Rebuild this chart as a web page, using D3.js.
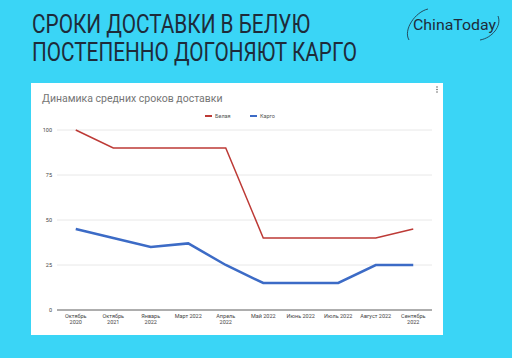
<!DOCTYPE html>
<html>
<head>
<meta charset="utf-8">
<script src="https://cdn.jsdelivr.net/npm/d3@7"></script>
<style>
  body { margin: 0; background: #3ad5f6; }
  svg { display: block; }
</style>
</head>
<body>
<div id="chart"></div>
<script>
  const months = ["Октябрь 2020", "Октябрь 2021", "Январь 2022", "Март 2022", "Апрель 2022",
                  "Май 2022", "Июнь 2022", "Июль 2022", "Август 2022", "Сентябрь 2022"];
  const belaya = [100, 90, 90, 90, 90, 40, 40, 40, 40, 45];
  const kargo = [45, 40, 35, 37, 25, 15, 15, 15, 25, 25];
  const yTicks = [0, 25, 50, 75, 100];
  const seriesNames = ["Белая", "Карго"];
  const seriesColors = ["#bd3a36", "#3c6bc6"];

  const W = 512, H = 358;
  const svg = d3.select("#chart").append("svg")
    .attr("width", W).attr("height", H);

  svg.append("rect").attr("width", W).attr("height", H).attr("fill", "#3ad5f6");

  // heading, squeezed to look like a condensed face
  const head = svg.append("g")
    .attr("font-family", "Roboto, sans-serif")
    .attr("fill", "#1e2b3a")
    .attr("font-size", 25);
  head.append("text").attr("x", 32).attr("y", 33)
    .attr("textLength", 278).attr("lengthAdjust", "spacingAndGlyphs")
    .text("СРОКИ ДОСТАВКИ В БЕЛУЮ");
  head.append("text").attr("x", 32).attr("y", 61)
    .attr("textLength", 325).attr("lengthAdjust", "spacingAndGlyphs")
    .text("ПОСТЕПЕННО ДОГОНЯЮТ КАРГО");

  // logo
  const logo = svg.append("g").attr("fill", "none").attr("stroke", "#1e2b3a").attr("stroke-width", 0.8);
  logo.append("path").attr("d", "M409,40 C403,30 415,12 428,9");
  logo.append("path").attr("d", "M498,16 C502,26 492,38 480,40");
  svg.append("text").attr("x", 413).attr("y", 30)
    .attr("font-family", "Roboto, sans-serif").attr("font-size", 15)
    .attr("fill", "#1e2b3a").attr("textLength", 83).attr("lengthAdjust", "spacingAndGlyphs")
    .text("ChinaToday");

  // card
  svg.append("rect").attr("x", 31).attr("y", 83).attr("width", 412).attr("height", 252)
    .attr("fill", "#ffffff");
  svg.append("g").selectAll("circle").data([0, 1, 2]).join("circle")
    .attr("cx", 437).attr("cy", d => 87 + d * 2.5).attr("r", 0.8).attr("fill", "#666");

  svg.append("text").attr("x", 42).attr("y", 102)
    .attr("font-family", "Roboto, sans-serif").attr("font-size", 10.5)
    .attr("fill", "#757575").text("Динамика средних сроков доставки");

  const x = d3.scaleBand().domain(months).range([57, 432]);
  const y = d3.scaleLinear().domain([0, 100]).range([310, 130]);

  // grid
  svg.append("g").selectAll("line").data(yTicks).join("line")
    .attr("x1", 57).attr("x2", 432)
    .attr("y1", d => y(d)).attr("y2", d => y(d))
    .attr("stroke", d => d === 0 ? "#333" : "#e2e2e2")
    .attr("stroke-width", 0.8);

  svg.append("g").selectAll("text").data(yTicks).join("text")
    .attr("x", 52).attr("y", d => y(d)).attr("dy", "0.35em")
    .attr("text-anchor", "end")
    .attr("font-family", "Roboto, sans-serif").attr("font-size", 5.5)
    .attr("fill", "#444").text(d => d);

  // x labels (long ones wrap onto two lines)
  const twoLine = new Set(["Октябрь 2020", "Октябрь 2021", "Январь 2022", "Апрель 2022", "Сентябрь 2022"]);
  const xl = svg.append("g")
    .attr("font-family", "Roboto, sans-serif").attr("font-size", 5.5)
    .attr("fill", "#444").attr("text-anchor", "middle");
  xl.selectAll("text").data(months).join("text")
    .attr("x", d => x(d) + x.bandwidth() / 2)
    .attr("y", 318)
    .each(function(d) {
      const t = d3.select(this);
      const cx = x(d) + x.bandwidth() / 2;
      if (!twoLine.has(d)) {
        t.text(d);
      } else {
        const parts = d.split(" ");
        t.append("tspan").attr("x", cx).text(parts[0]);
        t.append("tspan").attr("x", cx).attr("dy", 6).text(parts[1]);
      }
    });

  // lines
  const line = d3.line()
    .x((d, i) => x(months[i]) + x.bandwidth() / 2)
    .y(d => y(d));

  svg.append("path").datum(belaya)
    .attr("d", line).attr("fill", "none")
    .attr("stroke", seriesColors[0]).attr("stroke-width", 1.5);
  svg.append("path").datum(kargo)
    .attr("d", line).attr("fill", "none")
    .attr("stroke", seriesColors[1]).attr("stroke-width", 2.5);

  // legend
  const leg = svg.append("g").attr("font-family", "Roboto, sans-serif").attr("font-size", 5.5).attr("fill", "#555");
  const legX = [205, 250];
  seriesNames.forEach((n, i) => {
    leg.append("line").attr("x1", legX[i]).attr("x2", legX[i] + 7)
      .attr("y1", 116).attr("y2", 116)
      .attr("stroke", seriesColors[i]).attr("stroke-width", 2);
    leg.append("text").attr("x", legX[i] + 10).attr("y", 116).attr("dy", "0.35em").text(n);
  });
</script>
</body>
</html>
